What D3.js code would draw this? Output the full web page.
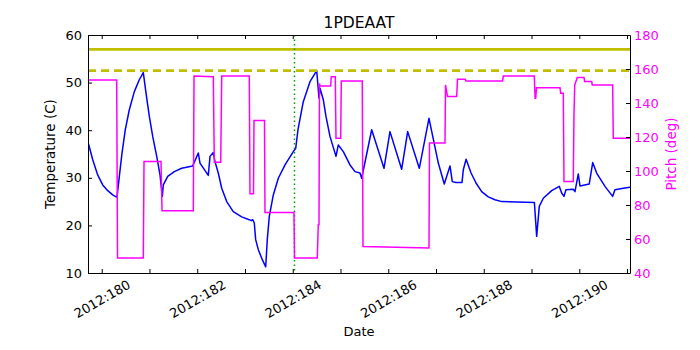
<!DOCTYPE html>
<html>
<head>
<meta charset="utf-8">
<style>
  body { margin: 0; background: #fff; }
  text { font-family: "DejaVu Sans", sans-serif; }
</style>
</head>
<body>
<script src="https://cdn.jsdelivr.net/npm/d3@7"></script>
<script>
// temperature trace (day of year, deg C)
var tempDays = [179.719, 179.812, 179.916, 180.021, 180.126, 180.230, 180.320, 180.369, 180.425, 180.494,
    180.578, 180.683, 180.787, 180.871, 180.928, 180.997, 181.068, 181.152, 181.221, 181.269,
    181.290, 181.382, 181.520, 181.675, 181.905, 182.023, 182.058, 182.232, 182.268, 182.337,
    182.372, 182.441, 182.513, 182.617, 182.755, 182.931, 183.090, 183.132, 183.162, 183.195,
    183.224, 183.279, 183.363, 183.434, 183.467, 183.509, 183.593, 183.698, 183.838, 184.012,
    184.062, 184.110, 184.221, 184.361, 184.502, 184.550, 184.571, 184.640, 184.696, 184.780,
    184.906, 184.954, 185.059, 185.199, 185.304, 185.408, 185.444, 185.653, 185.911, 186.036,
    186.281, 186.407, 186.650, 186.853, 187.048, 187.173, 187.293, 187.341, 187.419, 187.544,
    187.572, 187.630, 187.734, 187.838, 187.956, 188.095, 188.235, 188.375, 189.060, 189.108,
    189.162, 189.246, 189.422, 189.581, 189.631, 189.680, 189.721, 189.874, 189.910, 189.979,
    190.015, 190.209, 190.281, 190.364, 190.538, 190.699, 190.747, 190.921, 191.062];
var tempVals = [37.3, 33.8, 30.6, 28.5, 27.3, 26.4, 25.9, 30.3, 35.2, 40.1,
    44.3, 48.1, 50.6, 52.1, 47.8, 42.9, 38.7, 34.5, 30.6, 26.1,
    28.5, 30.3, 31.3, 32.0, 32.5, 35.2, 33.1, 30.5, 34.5, 35.3,
    33.4, 31.0, 27.8, 25.0, 22.9, 21.8, 21.2, 21.0, 21.2, 20.5,
    17.0, 14.9, 12.8, 11.3, 17.0, 21.9, 26.4, 29.9, 32.7, 35.5,
    36.2, 40.1, 46.0, 50.2, 52.5, 46.7, 48.8, 46.4, 42.9, 38.7,
    34.5, 36.9, 35.5, 32.7, 31.3, 31.0, 29.9, 40.1, 32.0, 39.7,
    31.8, 39.7, 32.0, 42.5, 33.1, 28.7, 32.5, 29.2, 29.0, 29.0,
    31.7, 33.9, 31.0, 28.9, 27.1, 26.0, 25.4, 25.0, 24.8, 17.7,
    24.0, 25.7, 27.3, 28.2, 26.8, 26.1, 27.5, 27.6, 27.1, 30.8,
    28.3, 28.7, 33.2, 31.0, 28.2, 26.1, 27.5, 27.8, 28.0];

// pitch trace (day of year, deg)
var pitchDays = [179.713, 180.314, 180.331, 180.871, 180.886, 181.242, 181.263, 181.918, 181.933, 182.337,
    182.358, 182.492, 182.513, 183.090, 183.105, 183.178, 183.189, 183.409, 183.419, 184.026,
    184.037, 184.514, 184.535, 184.550, 184.560, 184.571, 184.795, 184.807, 184.891, 184.906,
    185.004, 185.017, 185.456, 185.471, 186.853, 186.864, 187.188, 187.199, 187.240, 187.433,
    187.450, 187.607, 187.628, 188.396, 188.409, 189.058, 189.075, 189.088, 189.105, 189.596,
    189.611, 189.665, 189.680, 189.874, 189.889, 189.905, 189.958, 190.099, 190.113, 190.260,
    190.272, 190.699, 190.712, 191.062];
var pitchVals = [153.6, 153.6, 48.8, 48.8, 105.6, 105.6, 76.6, 76.6, 155.9, 155.4,
    105.2, 105.2, 155.9, 155.9, 86.6, 86.6, 129.7, 129.7, 75.6, 75.6,
    48.8, 48.8, 68.4, 68.4, 151.5, 150.0, 150.0, 155.5, 155.5, 119.3,
    119.3, 153.0, 153.0, 55.6, 54.7, 116.4, 116.4, 150.6, 143.8, 143.8,
    154.0, 154.0, 153.0, 153.0, 155.9, 155.9, 142.8, 142.8, 149.0, 149.0,
    145.8, 145.8, 93.8, 93.8, 133.0, 150.6, 155.0, 155.0, 152.6, 152.6,
    150.6, 150.6, 119.3, 119.3];

var limitPlanning = 52.5, limitCaution = 57.0;
var eventDay = 184.016;
var dayTicks = d3.range(180, 192);
var tempTicks = [10, 20, 30, 40, 50, 60];
var pitchTicks = [40, 60, 80, 100, 120, 140, 160, 180];

var W = 700, H = 350;
var area = { left: 88, top: 35, right: 630, bottom: 273 };

var svg = d3.select('body').append('svg')
    .attr('width', W).attr('height', H)
    .style('background', '#fff');

var x = d3.scaleLinear().domain([179.713, 191.062]).range([area.left, area.right]);
var yT = d3.scaleLinear().domain([10, 60]).range([area.bottom, area.top]);
var yP = d3.scaleLinear().domain([40, 180]).range([area.bottom, area.top]);

svg.append('clipPath').attr('id', 'plotclip')
  .append('rect')
    .attr('x', area.left).attr('y', area.top)
    .attr('width', area.right - area.left).attr('height', area.bottom - area.top);

var plot = svg.append('g').attr('clip-path', 'url(#plotclip)');

var tempLine = d3.line().x(function (d) { return x(d[0]); }).y(function (d) { return yT(d[1]); });
var pitchLine = d3.line().x(function (d) { return x(d[0]); }).y(function (d) { return yP(d[1]); });

plot.append('path')
    .datum(tempDays.map(function (d, i) { return [d, tempVals[i]]; }))
    .attr('d', tempLine)
    .attr('fill', 'none').attr('stroke', '#0000ff').attr('stroke-width', 1.5)
    .attr('stroke-linejoin', 'round');

plot.append('line')
    .attr('x1', area.left).attr('x2', area.right)
    .attr('y1', yT(limitCaution)).attr('y2', yT(limitCaution))
    .attr('stroke', '#bfbf00').attr('stroke-width', 2.8);
plot.append('line')
    .attr('x1', area.left).attr('x2', area.right)
    .attr('y1', yT(limitPlanning)).attr('y2', yT(limitPlanning))
    .attr('stroke', '#bfbf00').attr('stroke-width', 2.8)
    .attr('stroke-dasharray', '8,5');

var ex = Math.round(x(eventDay)) + 0.5;
plot.append('line')
    .attr('x1', ex).attr('x2', ex)
    .attr('y1', area.top).attr('y2', area.bottom)
    .attr('stroke', '#00a000').attr('stroke-width', 1.5)
    .attr('stroke-dasharray', '1.5,3');

plot.append('path')
    .datum(pitchDays.map(function (d, i) { return [d, pitchVals[i]]; }))
    .attr('d', pitchLine)
    .attr('fill', 'none').attr('stroke', '#ff00ff').attr('stroke-width', 1.5);

// axes, matplotlib style: ticks pointing inward
var xAxis = d3.axisBottom(x).tickValues(dayTicks).tickSizeInner(-4).tickSizeOuter(0)
    .tickFormat(function (d) { return d % 2 === 0 ? '2012:' + d : ''; });
var gx = svg.append('g').attr('transform', 'translate(0,' + area.bottom + ')').call(xAxis);
gx.selectAll('.tick text')
    .attr('y', 0).attr('dy', '0.35em')
    .attr('text-anchor', 'middle')
    .attr('transform', 'translate(0,26) rotate(-30)');

svg.append('g').attr('transform', 'translate(0,' + area.top + ')')
    .call(d3.axisTop(x).tickValues(dayTicks).tickSizeInner(-4).tickSizeOuter(0).tickFormat(''));

svg.append('g').attr('transform', 'translate(' + area.left + ',0)')
    .call(d3.axisLeft(yT).tickValues(tempTicks).tickSizeInner(-4).tickSizeOuter(0).tickPadding(6)
        .tickFormat(d3.format('d')));

var gr = svg.append('g').attr('transform', 'translate(' + area.right + ',0)')
    .call(d3.axisRight(yP).tickValues(pitchTicks).tickSizeInner(-4).tickSizeOuter(0).tickPadding(4)
        .tickFormat(d3.format('d')));
gr.selectAll('.tick text').attr('fill', '#ff00ff');

svg.selectAll('.domain').attr('stroke', '#000').attr('stroke-width', 1);
svg.selectAll('.tick line').attr('stroke', '#000');
svg.selectAll('.tick text').style('font-size', '13px').style('font-family', '"DejaVu Sans", sans-serif');

svg.append('text')
    .attr('x', (area.left + area.right) / 2).attr('y', 28)
    .attr('text-anchor', 'middle')
    .style('font-size', '15.5px')
    .text('1PDEAAT');

svg.append('text')
    .attr('x', (area.left + area.right) / 2).attr('y', 336)
    .attr('text-anchor', 'middle')
    .style('font-size', '13px')
    .text('Date');

svg.append('text')
    .attr('transform', 'translate(55,' + ((area.top + area.bottom) / 2) + ') rotate(-90)')
    .attr('text-anchor', 'middle')
    .style('font-size', '13.5px')
    .text('Temperature (C)');

svg.append('text')
    .attr('transform', 'translate(676,' + ((area.top + area.bottom) / 2) + ') rotate(-90)')
    .attr('text-anchor', 'middle')
    .attr('fill', '#ff00ff')
    .style('font-size', '13.5px')
    .text('Pitch (deg)');
</script>
</body>
</html>
